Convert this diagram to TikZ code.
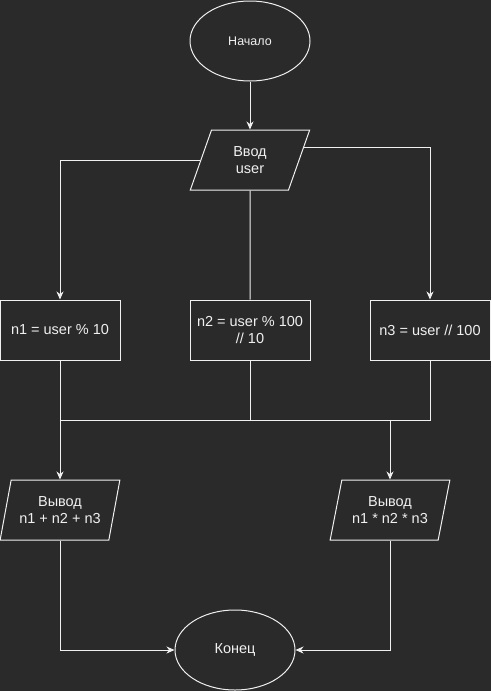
\documentclass[tikz,border=0pt]{standalone}
\usepackage{fontspec}
\setmainfont{Liberation Sans}
\usetikzlibrary{shapes.geometric,arrows.meta}
\definecolor{bg}{HTML}{2A2A2A}
\definecolor{fg}{HTML}{F0F0F0}
\tikzset{
    term/.style={ellipse, draw=fg, line width=1pt, minimum width=120pt, minimum height=80pt, inner sep=0pt},
    proc/.style={rectangle, draw=fg, line width=1pt, minimum width=120pt, minimum height=60pt, inner sep=0pt, align=center, font=\fontsize{14.5}{17.5}\selectfont},
    io/.style={trapezium, trapezium left angle=71.57, trapezium right angle=108.43, trapezium stretches=true, draw=fg, line width=1pt, minimum width=120pt, minimum height=60pt, inner sep=0pt, align=center, font=\fontsize{14.5}{17.5}\selectfont}
}
\begin{document}
\begin{tikzpicture}[x=1pt, y=-1pt, >={Stealth[length=8pt,width=7pt,inset=2.5pt]}, line width=1pt, draw=fg, text=fg]
\fill[bg] (0,0) rectangle (491,691);
\useasboundingbox (0,0) rectangle (491,691);

\node[term, font=\fontsize{12.5}{15}\selectfont] (start) at (250,41) {Начало};
\node[io] (in1) at (250,160) {Ввод\\user};

\node[proc] (n1) at (60,330) {n1 = user \% 10};
\node[proc] (n2) at (250,330) {n2 = user \% 100\\// 10};
\node[proc] (n3) at (430,330) {n3 = user // 100};

\node[io] (out1) at (60,510) {Вывод\\n1 + n2 + n3};
\node[io] (out2) at (390,510) {Вывод\\n1 * n2 * n3};
\node[term, font=\fontsize{14.5}{17.5}\selectfont] (end) at (235,650) {Конец};

\coordinate (m1) at (60,420);
\coordinate (m3) at (430,420);

\draw[fg, ->] (start) -- (in1);
\draw[fg, ->] (in1) -| (n1);
\draw[fg] (in1) -- (n2);
\draw[fg, ->] (in1.13.5) -| (n3);

\draw[fg] (n1) -- (m1) -- (m3) -- (n3);
\draw[fg] (n2) -- (n2 |- m1);
\draw[fg, ->] (m1) -- (out1);
\draw[fg, ->] (out2 |- m1) -- (out2);

\draw[fg, ->] (out1) |- (end);
\draw[fg, ->] (out2) |- (end);

\end{tikzpicture}
\end{document}
